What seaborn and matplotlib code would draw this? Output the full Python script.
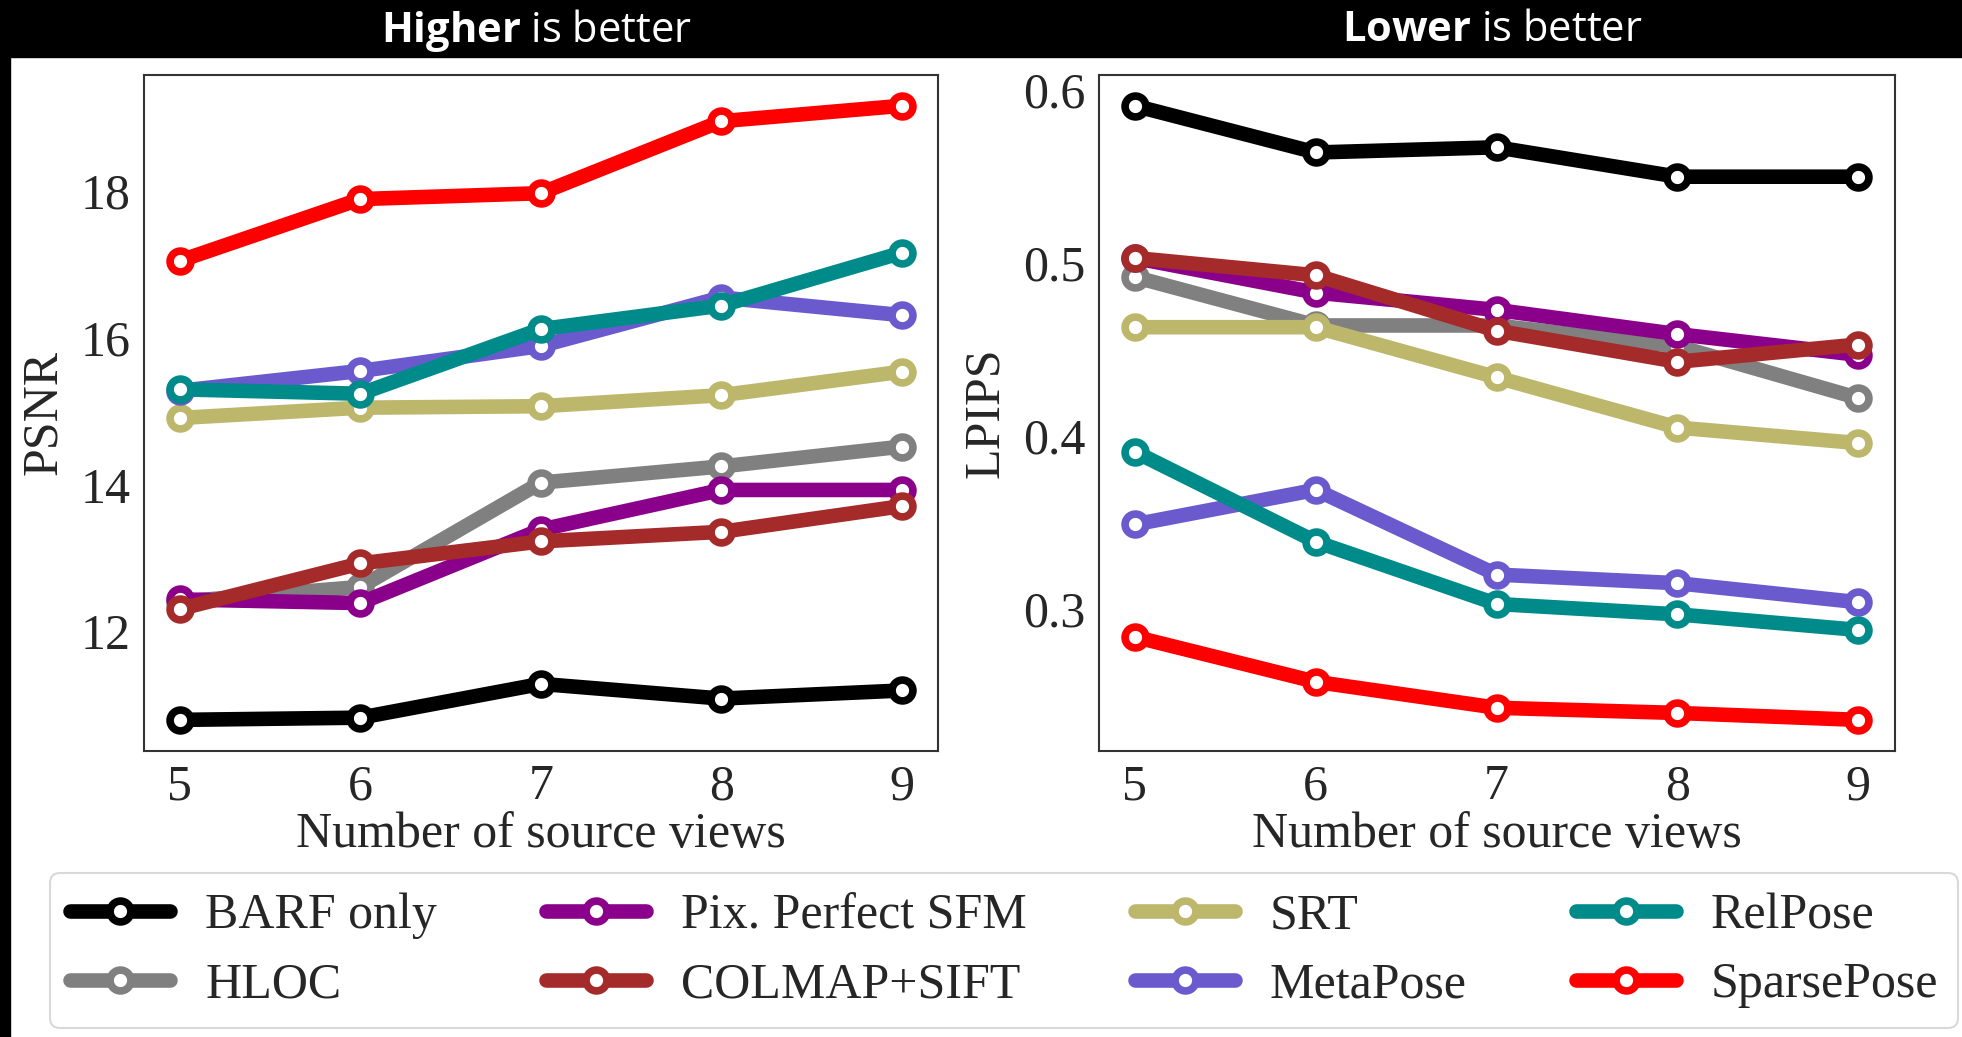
import matplotlib
matplotlib.use("Agg")
import matplotlib.pyplot as plt
import seaborn as sns

views = [5, 6, 7, 8, 9]
methods = ["BARF only", "HLOC", "Pix. Perfect SFM", "COLMAP+SIFT",
           "SRT", "MetaPose", "RelPose", "SparsePose"]
colors = ["#000000", "#808080", "#8B008B", "#A52A2A",
          "#BDB76B", "#6A5ACD", "#008B8B", "#FF0000"]

psnr = {
    "BARF only":        [10.80, 10.83, 11.29, 11.09, 11.20],
    "HLOC":             [12.41, 12.61, 14.03, 14.25, 14.52],
    "Pix. Perfect SFM": [12.44, 12.39, 13.39, 13.93, 13.93],
    "COLMAP+SIFT":      [12.31, 12.93, 13.23, 13.36, 13.71],
    "SRT":              [14.91, 15.05, 15.07, 15.22, 15.54],
    "MetaPose":         [15.28, 15.55, 15.89, 16.55, 16.31],
    "RelPose":          [15.30, 15.24, 16.12, 16.44, 17.16],
    "SparsePose":       [17.05, 17.89, 17.97, 18.95, 19.16],
}
lpips = {
    "BARF only":        [0.591, 0.564, 0.567, 0.550, 0.550],
    "HLOC":             [0.492, 0.464, 0.464, 0.452, 0.422],
    "Pix. Perfect SFM": [0.503, 0.483, 0.473, 0.459, 0.447],
    "COLMAP+SIFT":      [0.503, 0.493, 0.461, 0.443, 0.453],
    "SRT":              [0.463, 0.463, 0.434, 0.405, 0.396],
    "MetaPose":         [0.349, 0.369, 0.320, 0.315, 0.304],
    "RelPose":          [0.391, 0.339, 0.303, 0.297, 0.288],
    "SparsePose":       [0.284, 0.258, 0.243, 0.240, 0.236],
}

sns.set_style("white")
plt.rcParams["font.family"] = ["Liberation Serif", "DejaVu Serif"]
plt.rcParams["mathtext.fontset"] = "custom"
plt.rcParams["mathtext.bf"] = "Open Sans:bold"
plt.rcParams["mathtext.rm"] = "Open Sans"

fig = plt.figure(figsize=(19.62, 10.37), dpi=100)
ax1 = fig.add_axes([0.0733, 0.2762, 0.4047, 0.6514])
ax2 = fig.add_axes([0.5600, 0.2762, 0.4056, 0.6514])

FS = 36


def draw(ax, data, ylabel, yticks):
    for m, c in zip(methods, colors):
        sns.lineplot(x=views, y=data[m], ax=ax, color=c, lw=10.5, marker="o",
                     ms=15, mfc="white", mec=c, mew=5.5, label=m)
    if ax.get_legend():
        ax.get_legend().remove()
    ax.set_xticks(views)
    ax.set_yticks(yticks)
    ax.tick_params(labelsize=FS, pad=6)
    ax.set_xlabel("Number of source views", fontsize=FS, labelpad=1)
    ax.set_ylabel(ylabel, fontsize=FS, labelpad=10)
    for s in ax.spines.values():
        s.set_color("#333333")
        s.set_linewidth(1.5)


draw(ax1, psnr, "PSNR", [12, 14, 16, 18])
draw(ax2, lpips, "LPIPS", [0.3, 0.4, 0.5, 0.6])
ax2.set_yticklabels(["0.3", "0.4", "0.5", "0.6"])

# black title bar and left strip
fig.patches.append(plt.Rectangle((0, 0.945), 1, 0.055, transform=fig.transFigure,
                                 color="black", zorder=0))
fig.patches.append(plt.Rectangle((0, 0), 0.0052, 1, transform=fig.transFigure,
                                 color="black", zorder=0))
fig.text(0.2735, 0.971, r"$\mathbf{Higher}$ is better", color="white",
         fontsize=30, family="Open Sans", ha="center", va="center")
fig.text(0.7608, 0.971, r"$\mathbf{Lower}$ is better", color="white",
         fontsize=30, family="Open Sans", ha="center", va="center")

handles, labels = ax1.get_legend_handles_labels()
leg = fig.legend(handles, labels, ncol=4, loc="lower left",
                 bbox_to_anchor=(0.0255, 0.0084, 0.9725, 0.147), mode="expand",
                 borderaxespad=0, fontsize=FS, handlelength=2.0,
                 handletextpad=0.7, labelspacing=0.45, borderpad=0.4,
                 fancybox=True, frameon=True)
leg.get_frame().set_edgecolor("#d0d0d0")
leg.get_frame().set_linewidth(1.5)

fig.savefig("out.png", dpi=100)
